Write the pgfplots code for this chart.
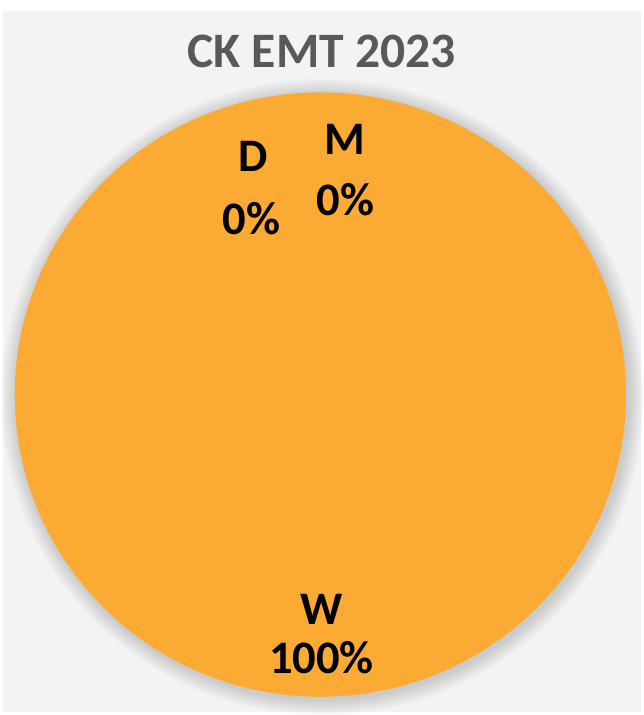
\documentclass[border=0pt]{standalone}
\usepackage{pgfplots}
\usepackage{pgfplotstable}
\pgfplotsset{compat=1.18}
\usepackage{fontspec}
\setmainfont{Carlito}
\definecolor{pieorange}{RGB}{251,171,51}
\definecolor{bggray}{RGB}{243,243,243}
\definecolor{titlegray}{RGB}{89,89,89}
\pgfplotstableread{
label value
W 100
D 0
M 0
}\piedata
\begin{document}
\begin{tikzpicture}
\begin{axis}[
  scale only axis, width=644bp, height=715bp,
  xmin=0, xmax=644, ymin=0, ymax=715,
  hide axis, clip=false,
]
% background
\fill[white] (axis cs:0,0) rectangle (axis cs:644,715);
\fill[bggray] (axis cs:3,0) rectangle (axis cs:644,704);
% soft shadow
\fill[black,opacity=0.018] (axis cs:324,316) ellipse [x radius=323bp, y radius=319.5bp];
\fill[black,opacity=0.018] (axis cs:324,316) ellipse [x radius=321bp, y radius=317.5bp];
\fill[black,opacity=0.018] (axis cs:324,316) ellipse [x radius=319bp, y radius=315.5bp];
\fill[black,opacity=0.018] (axis cs:324,316) ellipse [x radius=317bp, y radius=313.5bp];
\fill[black,opacity=0.018] (axis cs:324,316) ellipse [x radius=315bp, y radius=311.5bp];
\fill[black,opacity=0.018] (axis cs:324,316) ellipse [x radius=313bp, y radius=309.5bp];
\fill[black,opacity=0.018] (axis cs:324,316) ellipse [x radius=311bp, y radius=307.5bp];
\fill[black,opacity=0.018] (axis cs:324,316) ellipse [x radius=309bp, y radius=305.5bp];
% pie slices from data (start at top, clockwise)
\pgfplotstablegetelem{0}{value}\of\piedata
\pgfmathsetmacro\angW{3.6*\pgfplotsretval}
\fill[pieorange] (axis cs:322,318.5) -- ++(90:307bp and 303.5bp) arc[start angle=90, delta angle=-\angW, x radius=307bp, y radius=303.5bp] -- cycle;
\fill[pieorange] (axis cs:322,318.5) ellipse [x radius=307bp, y radius=303.5bp];
% title
\node[anchor=base, font=\fontsize{50}{60}\selectfont\bfseries, text=titlegray] at (axis cs:323,647) {CK EMT 2023};
% labels
\node[anchor=base, font=\fontsize{47}{56}\selectfont\bfseries] at (axis cs:254,543) {D};
\node[anchor=base, font=\fontsize{47}{56}\selectfont\bfseries] at (axis cs:253,479) {0\%};
\node[anchor=base, font=\fontsize{47}{56}\selectfont\bfseries] at (axis cs:347,560) {M};
\node[anchor=base, font=\fontsize{47}{56}\selectfont\bfseries] at (axis cs:347,498) {0\%};
\node[anchor=base, font=\fontsize{47}{56}\selectfont\bfseries] at (axis cs:323,87) {W};
\node[anchor=base, font=\fontsize{47}{56}\selectfont\bfseries] at (axis cs:323,38) {100\%};
\end{axis}
\end{tikzpicture}
\end{document}
